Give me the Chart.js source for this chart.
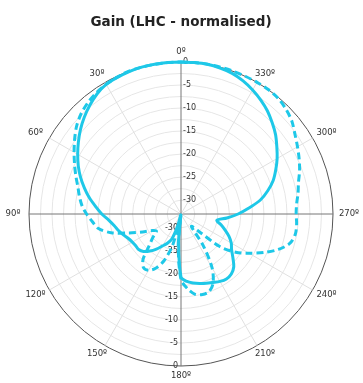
<!DOCTYPE html>
<html>
<head>
<meta charset="utf-8">
<script src="https://cdn.jsdelivr.net/npm/chart.js@4"></script>
<style>
  body { margin: 0; background: #fff; }
  #wrap { width: 363px; height: 383px; }
</style>
</head>
<body>
<div id="wrap"><canvas id="gainChart"></canvas></div>
<script>
// angles in degrees, counter-clockwise from the top (0..355, step 5)
const angles = [
  0, 5, 10, 15, 20, 25, 30, 35, 40, 45, 50, 55,
  60, 65, 70, 75, 80, 85, 90, 95, 100, 105, 110, 115,
  120, 125, 130, 135, 140, 145, 150, 155, 160, 165, 170, 175,
  180, 185, 190, 195, 200, 205, 210, 215, 220, 225, 230, 235,
  240, 245, 250, 255, 260, 265, 270, 275, 280, 285, 290, 295,
  300, 305, 310, 315, 320, 325, 330, 335, 340, 345, 350, 355
]

// solid trace (dB)
const gainSolid = [
  0, 0, 0, 0, -0.1, -0.3, -0.5, -1.2, -2.2, -3.3, -4.5, -5.8,
  -7.1, -8.4, -9.8, -11.3, -12.8, -14.4, -15.8, -17.3, -18.3, -19.0, -19.7, -20.4,
  -20.8, -21.0, -21.0, -21.5, -22.5, -23.7, -25.0, -26.0, -27.3, -30.5, -32.8, -27.0,
  -19.3, -18.3, -17.8, -17.4, -17.0, -16.6, -16.1, -15.8, -16.0, -16.8, -18.3, -19.6,
  -20.4, -21.5, -22.8, -24.0, -25.1, -23.0, -20.6, -18.2, -15.5, -13.5, -11.7, -10.3,
  -8.9, -7.6, -6.2, -5.0, -3.8, -2.8, -1.9, -1.1, -0.5, -0.2, 0, 0
]

// dashed trace (dB)
const gainDashed = [
  0, 0, 0, 0, 0, -0.2, -0.5, -0.9, -1.5, -2.3, -3.4, -4.8,
  -6.2, -7.5, -8.7, -9.8, -10.6, -11.4, -12.5, -13.7, -14.8, -17.3, -21.0, -23.8,
  -25.8, -26.5, -25.0, -23.2, -20.2, -18.8, -18.9, -20.0, -22.2, -26.0, -31.5, -26.0,
  -18.8, -16.7, -15.3, -14.9, -15.1, -16.5, -19.5, -24.5, -29.5, -28.0, -22.0, -18.5,
  -16.0, -13.2, -10.5, -8.5, -7.8, -7.8, -8.0, -7.8, -7.2, -6.6, -5.6, -4.7,
  -3.8, -2.8, -1.6, -0.8, -0.2, 0, 0, 0, 0, 0, 0, 0
]

const tickValues = [0, -5, -10, -15, -20, -25, -30]
const angleTicks = [0, 30, 60, 90, 120, 150, 180, 210, 240, 270, 300, 330]

const lineColor = '#1ec8e8'
const txtColor = '#333'

// radar goes clockwise, the plot goes counter-clockwise
const n = angles.length
const order = angles.map((a, i) => (n - i) % n)
const labels = order.map(k => angles[k])

function angleOf(index){
    return labels[index]
}

const axisLabels = {
    id: 'axisLabels',
    beforeDatasetsDraw(chart){
        const ctx = chart.ctx
        const r = chart.scales.r
        ctx.save()
        ctx.fillStyle = txtColor
        ctx.font = '8px "DejaVu Sans"'
        ctx.textBaseline = 'middle'
        tickValues.forEach(v => {
            const d = r.getDistanceFromCenterForValue(v)
            ctx.textAlign = 'left'
            ctx.fillText(String(v), r.xCenter + 2, r.yCenter - d)
            ctx.textAlign = 'right'
            ctx.fillText(String(v), r.xCenter - 3, r.yCenter + d)
        })
        ctx.restore()
    },
    afterDraw(chart){
        const ctx = chart.ctx
        const r = chart.scales.r
        ctx.save()
        ctx.fillStyle = txtColor
        ctx.font = '8.5px "DejaVu Sans"'
        ctx.textAlign = 'center'
        ctx.textBaseline = 'middle'
        angleTicks.forEach(a => {
            const t = a * Math.PI / 180
            const x = r.xCenter - (r.drawingArea + 16) * Math.sin(t)
            const y = r.yCenter - (r.drawingArea + 10) * Math.cos(t)
            ctx.fillText(a + 'º', x, y)
        })
        ctx.restore()
    }
}

const ctx = document.getElementById('gainChart').getContext('2d')
const gainChart = new Chart(ctx, {
    type: 'radar',
    data: {
        labels: labels,
        datasets: [{
            label: 'LHC',
            data: order.map(k => gainSolid[k]),
            borderColor: lineColor,
            borderWidth: 3,
            pointRadius: 0,
            fill: false,
            tension: 0.3
        }, {
            label: 'LHC (dashed)',
            data: order.map(k => gainDashed[k]),
            borderColor: lineColor,
            borderWidth: 3,
            borderDash: [7, 4],
            pointRadius: 0,
            fill: false,
            tension: 0.3
        }]
    },
    options: {
        responsive: true,
        maintainAspectRatio: false,
        animation: false,
        layout: {
            padding: {left: 29, right: 30, top: 0, bottom: 16}
        },
        plugins: {
            legend: {display: false},
            tooltip: {enabled: false},
            title: {
                display: true,
                text: 'Gain (LHC - normalised)',
                color: '#222',
                font: {family: '"DejaVu Sans"', size: 13.5, weight: 'bold', lineHeight: 1.2},
                padding: {top: 14, bottom: 32}
            }
        },
        scales: {
            r: {
                min: -33,
                max: 0,
                ticks: {display: false, stepSize: 2.5},
                pointLabels: {display: false},
                grid: {
                    circular: true,
                    color: c => (c.tick && c.tick.value === 0) ? '#555' : '#e6e6e6',
                    lineWidth: 1
                },
                angleLines: {
                    color: c => {
                        const a = angleOf(c.index)
                        if (a % 90 === 0) return '#777'
                        if (a % 30 === 0) return '#e0e0e0'
                        return 'rgba(0,0,0,0)'
                    },
                    lineWidth: c => (angleOf(c.index) % 30 === 0 ? 1 : 0)
                }
            }
        }
    },
    plugins: [axisLabels]
})
</script>
</body>
</html>
